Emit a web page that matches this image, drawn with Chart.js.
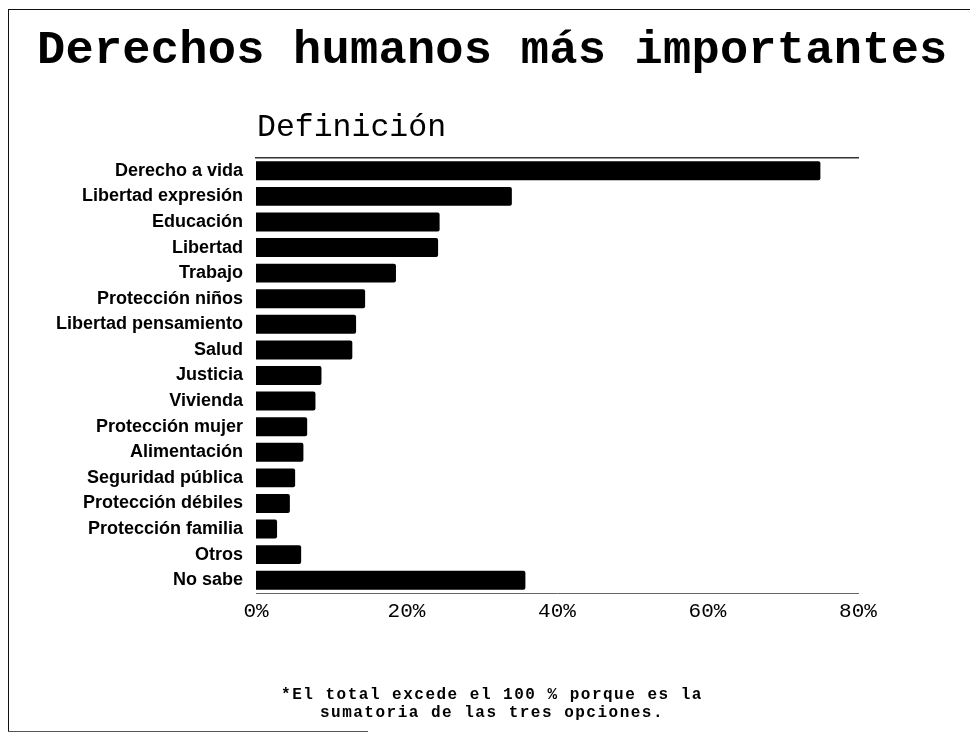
<!DOCTYPE html>
<html>
<head>
<meta charset="utf-8">
<script src="https://cdn.jsdelivr.net/npm/chart.js@4.4.1/dist/chart.umd.min.js"></script>
<style>
  html, body { margin: 0; padding: 0; background: #fff; }
  body { width: 970px; height: 733px; position: relative; overflow: hidden; }
  #chart { position: absolute; left: 0; top: 0; }
  .frame { position: absolute; left: 8px; top: 9px; width: 980px; height: 722px;
           border-left: 1.5px solid #111; border-top: 1.5px solid #111; }
  .frameBottom { position: absolute; left: 8px; top: 731px; width: 360px; height: 0;
                 border-top: 1.5px solid #555; }
  .title { position: absolute; left: 37px; top: 27px; font-family: "Liberation Mono", monospace;
           font-weight: bold; font-size: 47px; line-height: 1; letter-spacing: 0.25px;
           white-space: nowrap; color: #000; }
  .subtitle { position: absolute; left: 257px; top: 112px; font-family: "Liberation Mono", monospace;
              font-size: 31.5px; line-height: 1; white-space: nowrap; color: #000; }
  .note { position: absolute; left: 192px; width: 600px; top: 686px; text-align: center;
          font-family: "Liberation Mono", monospace; font-weight: bold; font-size: 16px;
          line-height: 18px; letter-spacing: 1.5px; color: #000; }
</style>
</head>
<body>
<div class="frame"></div>
<div class="frameBottom"></div>
<canvas id="chart" width="970" height="733"></canvas>
<div class="title">Derechos humanos más importantes</div>
<div class="subtitle">Definición</div>
<div class="note">*El total excede el 100 % porque es la<br>sumatoria de las tres opciones.</div>
<script>
const categories = [
  "Derecho a vida", "Libertad expresión", "Educación", "Libertad", "Trabajo",
  "Protección niños", "Libertad pensamiento", "Salud", "Justicia", "Vivienda",
  "Protección mujer", "Alimentación", "Seguridad pública", "Protección débiles",
  "Protección familia", "Otros", "No sabe"
];
const percentages = [75.0, 34.0, 24.4, 24.2, 18.6, 14.5, 13.3, 12.8, 8.7, 7.9, 6.8, 6.3, 5.2, 4.5, 2.8, 6.0, 35.8];
const axisMin = 0;
const axisMax = 80;
const axisStep = 20;

const ctx = document.getElementById('chart').getContext('2d');
new Chart(ctx, {
  type: 'bar',
  data: {
    labels: categories,
    datasets: [{
      data: percentages,
      backgroundColor: '#000',
      borderWidth: 0,
      borderRadius: 2,
      barPercentage: 0.74,
      categoryPercentage: 1.0,
      xAxisID: 'x',
      yAxisID: 'y'
    }]
  },
  options: {
    indexAxis: 'y',
    responsive: false,
    animation: false,
    devicePixelRatio: 1,
    layout: { padding: { left: 0, right: 112, top: 158, bottom: 100 } },
    plugins: { legend: { display: false }, tooltip: { enabled: false } },
    scales: {
      x: {
        position: 'bottom',
        min: axisMin, max: axisMax,
        ticks: {
          stepSize: axisStep,
          callback: v => v + '%',
          color: '#000',
          font: { family: 'Liberation Mono', size: 21 },
          padding: 6,
          maxRotation: 0
        },
        grid: { display: false, drawTicks: false },
        border: { display: true, color: '#666', width: 1 },
        afterFit(s) { s.height = 40; }
      },
      xTop: {
        position: 'top',
        type: 'linear',
        min: axisMin, max: axisMax,
        ticks: { display: false },
        grid: { display: false, drawTicks: false },
        border: { display: true, color: '#333', width: 1.5 },
        afterFit(s) { s.height = 0; }
      },
      y: {
        ticks: {
          color: '#000',
          font: { family: 'Liberation Sans', size: 18, weight: 'bold' },
          padding: 13
        },
        grid: { display: false, drawTicks: false },
        border: { display: false },
        afterFit(s) { s.width = 256; }
      }
    }
  }
});
</script>
</body>
</html>
